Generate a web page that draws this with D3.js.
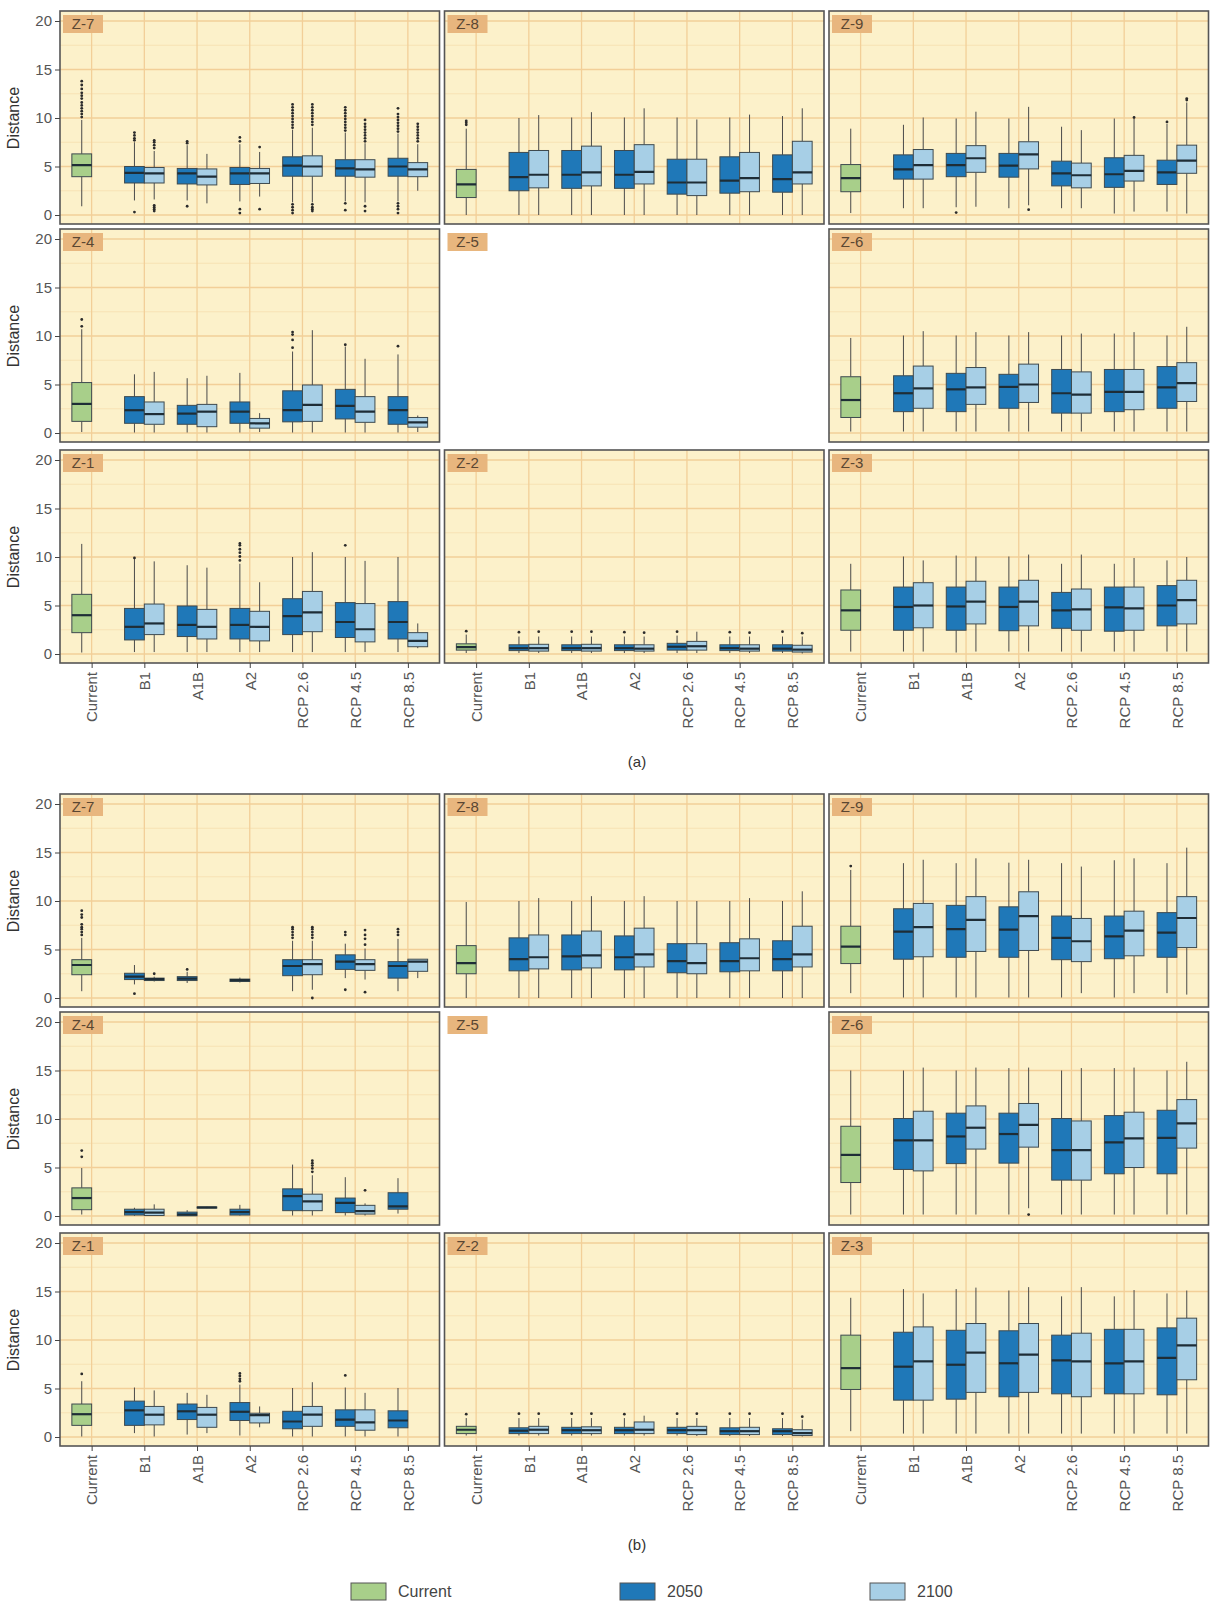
<!DOCTYPE html>
<html>
<head>
<meta charset="utf-8">
<script src="https://cdn.jsdelivr.net/npm/d3@7"></script>
<style>
  body { margin: 0; background: #fff; }
  svg { display: block; }
  text { font-family: "Liberation Sans", Arial, sans-serif; }
</style>
</head>
<body>
<svg class="box-chart" width="1211" height="1605"></svg>
<script>
// Categories and labels
const scenarios = ['Current', 'B1', 'A1B', 'A2', 'RCP 2.6', 'RCP 4.5', 'RCP 8.5'];
const periods = ['Current', '2050', '2100'];
const zones = ['Z-7', 'Z-8', 'Z-9', 'Z-4', 'Z-5', 'Z-6', 'Z-1', 'Z-2', 'Z-3'];
const yTicks = [0, 5, 10, 15, 20];
const yMinor = [2.5, 7.5, 12.5, 17.5];
const figureLabels = ['(a)', '(b)'];

// Box stats: scenario, period, lower whisker, q1, median, q3, upper whisker, outliers
const a_Z7 = [
  ['Current', 'Current', 0.9, 3.95, 5.15, 6.3, 9.8, [10.1, 10.4, 10.7, 11.0, 11.3, 11.6, 12.0, 12.3, 12.6, 13.0, 13.4, 13.8]],
  ['B1', '2050', 1.5, 3.3, 4.35, 5.0, 7.5, [7.7, 7.9, 8.2, 8.5, 0.3]],
  ['B1', '2100', 1.6, 3.3, 4.3, 4.9, 6.6, [6.9, 7.2, 7.5, 7.7, 1.0, 0.8, 0.6, 0.4]],
  ['A1B', '2050', 1.5, 3.2, 4.3, 4.8, 7.2, [7.4, 7.6, 0.9]],
  ['A1B', '2100', 1.2, 3.1, 3.95, 4.75, 6.3, []],
  ['A2', '2050', 1.4, 3.15, 4.3, 4.9, 7.3, [7.6, 8.0, 0.6, 0.2]],
  ['A2', '2100', 1.9, 3.25, 4.3, 4.8, 6.5, [7.0, 0.6]],
  ['RCP 2.6', '2050', 1.3, 4.0, 5.1, 6.0, 8.8, [9.0, 9.3, 9.6, 9.9, 10.2, 10.5, 10.8, 11.1, 11.4, 1.1, 0.8, 0.5, 0.2]],
  ['RCP 2.6', '2100', 1.3, 4.0, 5.0, 6.1, 9.0, [9.3, 9.6, 9.9, 10.2, 10.5, 10.8, 11.1, 11.4, 1.1, 0.8, 0.6, 0.4]],
  ['RCP 4.5', '2050', 1.4, 4.0, 4.8, 5.7, 8.5, [8.7, 9.0, 9.3, 9.6, 9.9, 10.2, 10.5, 10.8, 11.1, 1.2, 0.5]],
  ['RCP 4.5', '2100', 1.3, 3.9, 4.7, 5.7, 7.4, [7.6, 7.9, 8.2, 8.5, 8.8, 9.1, 9.4, 9.8, 0.9, 0.4]],
  ['RCP 8.5', '2050', 1.4, 4.0, 5.0, 5.85, 8.4, [8.6, 8.9, 9.2, 9.5, 9.8, 10.1, 10.4, 11.0, 1.2, 0.9, 0.6, 0.2]],
  ['RCP 8.5', '2100', 2.5, 3.95, 4.7, 5.4, 7.3, [7.6, 7.9, 8.2, 8.5, 8.8, 9.1, 9.4]]
];
const a_Z8 = [
  ['Current', 'Current', 0, 1.8, 3.15, 4.7, 8.9, [9.3, 9.5, 9.7]],
  ['B1', '2050', 0, 2.5, 3.9, 6.45, 10.0, []],
  ['B1', '2100', 0, 2.8, 4.15, 6.65, 10.3, []],
  ['A1B', '2050', 0, 2.75, 4.15, 6.65, 10.05, []],
  ['A1B', '2100', 0, 3.0, 4.4, 7.1, 10.6, []],
  ['A2', '2050', 0, 2.75, 4.15, 6.65, 10.05, []],
  ['A2', '2100', 0, 3.2, 4.45, 7.25, 11.0, []],
  ['RCP 2.6', '2050', 0, 2.15, 3.35, 5.75, 10.05, []],
  ['RCP 2.6', '2100', 0, 2.0, 3.35, 5.75, 9.85, []],
  ['RCP 4.5', '2050', 0, 2.25, 3.55, 6.0, 10.05, []],
  ['RCP 4.5', '2100', 0, 2.4, 3.8, 6.45, 10.35, []],
  ['RCP 8.5', '2050', 0, 2.35, 3.7, 6.2, 10.2, []],
  ['RCP 8.5', '2100', 0, 3.2, 4.4, 7.6, 11.0, []]
];
const a_Z9 = [
  ['Current', 'Current', 0.2, 2.4, 3.8, 5.2, 8.9, []],
  ['B1', '2050', 0.7, 3.7, 4.7, 6.2, 9.3, []],
  ['B1', '2100', 0.7, 3.7, 5.15, 6.75, 10.05, []],
  ['A1B', '2050', 0.8, 3.95, 5.15, 6.35, 9.95, [0.25]],
  ['A1B', '2100', 0.85, 4.4, 5.85, 7.15, 10.65, []],
  ['A2', '2050', 0.7, 3.9, 5.1, 6.35, 9.95, []],
  ['A2', '2100', 1.0, 4.75, 6.25, 7.55, 11.15, [0.55]],
  ['RCP 2.6', '2050', 0.7, 3.0, 4.3, 5.55, 9.1, []],
  ['RCP 2.6', '2100', 0.7, 2.8, 4.1, 5.35, 8.75, []],
  ['RCP 4.5', '2050', 0.15, 2.85, 4.2, 5.9, 9.95, []],
  ['RCP 4.5', '2100', 0.35, 3.5, 4.55, 6.15, 9.9, [10.05]],
  ['RCP 8.5', '2050', 0.35, 3.15, 4.4, 5.65, 9.4, [9.6]],
  ['RCP 8.5', '2100', 0.15, 4.3, 5.6, 7.2, 11.6, [11.85, 12.0]]
];
const a_Z4 = [
  ['Current', 'Current', 0.1, 1.2, 3.0, 5.2, 10.7, [11.0, 11.7]],
  ['B1', '2050', 0.05, 1.0, 2.35, 3.75, 6.05, []],
  ['B1', '2100', 0.05, 0.9, 1.95, 3.2, 6.3, []],
  ['A1B', '2050', 0.05, 0.9, 2.0, 2.85, 5.65, []],
  ['A1B', '2100', 0.05, 0.65, 2.2, 2.95, 5.9, []],
  ['A2', '2050', 0.05, 1.0, 2.2, 3.2, 6.2, []],
  ['A2', '2100', 0.1, 0.5, 1.0, 1.5, 2.05, []],
  ['RCP 2.6', '2050', 0.05, 1.15, 2.35, 4.35, 8.4, [8.8, 9.6, 10.15, 10.4]],
  ['RCP 2.6', '2100', 0.05, 1.2, 2.9, 4.95, 10.6, []],
  ['RCP 4.5', '2050', 0.05, 1.45, 2.8, 4.5, 8.9, [9.1]],
  ['RCP 4.5', '2100', 0.05, 1.1, 2.2, 3.75, 7.65, []],
  ['RCP 8.5', '2050', 0.05, 0.9, 2.35, 3.75, 8.1, [8.95]],
  ['RCP 8.5', '2100', 0.1, 0.6, 1.1, 1.6, 1.8, []]
];
const a_Z6 = [
  ['Current', 'Current', 0.15, 1.6, 3.4, 5.8, 9.8, []],
  ['B1', '2050', 0.15, 2.2, 4.1, 5.9, 10.05, []],
  ['B1', '2100', 0.15, 2.55, 4.6, 6.9, 10.5, []],
  ['A1B', '2050', 0.15, 2.2, 4.5, 6.15, 10.05, []],
  ['A1B', '2100', 0.15, 2.95, 4.7, 6.75, 10.4, []],
  ['A2', '2050', 0.15, 2.55, 4.75, 6.05, 10.05, []],
  ['A2', '2100', 0.15, 3.15, 5.0, 7.1, 10.4, []],
  ['RCP 2.6', '2050', 0.15, 2.05, 4.1, 6.55, 10.05, []],
  ['RCP 2.6', '2100', 0.15, 2.05, 3.95, 6.3, 10.25, []],
  ['RCP 4.5', '2050', 0.15, 2.2, 4.25, 6.55, 10.25, []],
  ['RCP 4.5', '2100', 0.15, 2.4, 4.25, 6.55, 10.4, []],
  ['RCP 8.5', '2050', 0.15, 2.55, 4.7, 6.85, 10.05, []],
  ['RCP 8.5', '2100', 0.15, 3.25, 5.15, 7.25, 10.95, []]
];
const a_Z1 = [
  ['Current', 'Current', 0.15, 2.2, 4.0, 6.15, 11.35, []],
  ['B1', '2050', 0.2, 1.45, 2.8, 4.7, 9.8, [9.9]],
  ['B1', '2100', 0.2, 2.0, 3.15, 5.15, 9.55, []],
  ['A1B', '2050', 0.2, 1.8, 3.0, 4.95, 9.15, []],
  ['A1B', '2100', 0.2, 1.55, 2.8, 4.6, 8.9, []],
  ['A2', '2050', 0.2, 1.55, 3.0, 4.7, 9.3, [9.65, 10.05, 10.45, 10.8, 11.2, 11.4]],
  ['A2', '2100', 0.2, 1.35, 2.8, 4.4, 7.4, []],
  ['RCP 2.6', '2050', 0.2, 2.0, 3.9, 5.7, 10.0, []],
  ['RCP 2.6', '2100', 0.2, 2.3, 4.3, 6.45, 10.5, []],
  ['RCP 4.5', '2050', 0.2, 1.7, 3.3, 5.3, 10.0, [11.2]],
  ['RCP 4.5', '2100', 0.2, 1.25, 2.55, 5.2, 9.6, []],
  ['RCP 8.5', '2050', 0.2, 1.55, 3.3, 5.4, 10.0, []],
  ['RCP 8.5', '2100', 0.6, 0.75, 1.35, 2.2, 3.15, []]
];
const a_Z2 = [
  ['Current', 'Current', 0.1, 0.4, 0.7, 1.05, 2.0, [2.35]],
  ['B1', '2050', 0.1, 0.35, 0.6, 0.95, 1.8, [2.25]],
  ['B1', '2100', 0.1, 0.3, 0.6, 1.0, 1.8, [2.3]],
  ['A1B', '2050', 0.1, 0.35, 0.6, 0.95, 1.8, [2.3]],
  ['A1B', '2100', 0.1, 0.3, 0.6, 1.0, 1.8, [2.3]],
  ['A2', '2050', 0.1, 0.35, 0.6, 0.95, 1.8, [2.25]],
  ['A2', '2100', 0.1, 0.3, 0.55, 0.95, 1.8, [2.2]],
  ['RCP 2.6', '2050', 0.1, 0.4, 0.75, 1.1, 1.9, [2.3]],
  ['RCP 2.6', '2100', 0.1, 0.4, 0.8, 1.3, 2.3, []],
  ['RCP 4.5', '2050', 0.1, 0.35, 0.6, 0.95, 1.8, [2.25]],
  ['RCP 4.5', '2100', 0.1, 0.3, 0.55, 0.95, 1.8, [2.2]],
  ['RCP 8.5', '2050', 0.1, 0.3, 0.55, 0.95, 1.8, [2.3]],
  ['RCP 8.5', '2100', 0.05, 0.2, 0.45, 0.9, 1.8, [2.15]]
];
const a_Z3 = [
  ['Current', 'Current', 0.25, 2.45, 4.5, 6.6, 9.3, []],
  ['B1', '2050', 0.25, 2.45, 4.85, 6.9, 10.05, []],
  ['B1', '2100', 0.25, 2.7, 5.0, 7.35, 9.65, []],
  ['A1B', '2050', 0.15, 2.45, 4.9, 6.9, 10.15, []],
  ['A1B', '2100', 0.25, 3.1, 5.4, 7.5, 10.05, []],
  ['A2', '2050', 0.25, 2.4, 4.85, 6.9, 10.05, []],
  ['A2', '2100', 0.25, 2.9, 5.4, 7.6, 10.25, []],
  ['RCP 2.6', '2050', 0.25, 2.65, 4.5, 6.35, 9.3, []],
  ['RCP 2.6', '2100', 0.25, 2.45, 4.6, 6.7, 10.25, []],
  ['RCP 4.5', '2050', 0.25, 2.35, 4.8, 6.9, 9.3, []],
  ['RCP 4.5', '2100', 0.25, 2.45, 4.7, 6.9, 9.9, []],
  ['RCP 8.5', '2050', 0.25, 2.9, 5.0, 7.05, 9.65, []],
  ['RCP 8.5', '2100', 0.25, 3.1, 5.55, 7.6, 10.0, []]
];

const b_Z7 = [
  ['Current', 'Current', 0.7, 2.4, 3.4, 3.95, 6.2, [6.5, 6.8, 7.1, 7.3, 7.6, 8.3, 8.6, 9.0]],
  ['B1', '2050', 1.4, 1.9, 2.2, 2.55, 3.4, [0.45]],
  ['B1', '2100', 1.7, 1.8, 1.95, 2.05, 2.2, [2.5]],
  ['A1B', '2050', 1.55, 1.8, 2.0, 2.2, 2.7, [2.95]],
  ['A2', '2050', 1.6, 1.7, 1.85, 1.95, 2.1, []],
  ['RCP 2.6', '2050', 0.7, 2.3, 3.3, 3.95, 5.9, [6.2, 6.5, 6.8, 7.1, 7.3]],
  ['RCP 2.6', '2100', 0.85, 2.4, 3.5, 3.95, 5.9, [6.2, 6.5, 6.8, 7.1, 7.3, 0.0]],
  ['RCP 4.5', '2050', 2.05, 2.95, 3.75, 4.45, 5.6, [6.5, 6.8, 0.85]],
  ['RCP 4.5', '2100', 1.9, 2.85, 3.5, 3.95, 5.1, [5.5, 6.1, 6.5, 7.0, 0.6]],
  ['RCP 8.5', '2050', 0.7, 2.05, 3.3, 3.75, 6.1, [6.5, 6.8, 7.1]],
  ['RCP 8.5', '2100', 2.05, 2.75, 3.75, 4.0, 4.0, []]
];
const b_Z8 = [
  ['Current', 'Current', 0, 2.5, 3.6, 5.4, 9.9, []],
  ['B1', '2050', 0, 2.8, 4.0, 6.2, 10.0, []],
  ['B1', '2100', 0, 3.0, 4.2, 6.5, 10.3, []],
  ['A1B', '2050', 0, 2.9, 4.3, 6.5, 10.0, []],
  ['A1B', '2100', 0, 3.1, 4.4, 6.9, 10.5, []],
  ['A2', '2050', 0, 2.9, 4.2, 6.4, 10.0, []],
  ['A2', '2100', 0, 3.2, 4.5, 7.2, 10.5, []],
  ['RCP 2.6', '2050', 0, 2.6, 3.8, 5.6, 10.0, []],
  ['RCP 2.6', '2100', 0, 2.5, 3.6, 5.6, 10.0, []],
  ['RCP 4.5', '2050', 0, 2.7, 3.8, 5.7, 10.0, []],
  ['RCP 4.5', '2100', 0, 2.8, 4.1, 6.1, 10.3, []],
  ['RCP 8.5', '2050', 0, 2.8, 4.0, 5.9, 10.0, []],
  ['RCP 8.5', '2100', 0, 3.2, 4.5, 7.4, 11.0, []]
];
const b_Z9 = [
  ['Current', 'Current', 0.5, 3.55, 5.3, 7.4, 13.2, [13.6]],
  ['B1', '2050', 0.05, 4.0, 6.85, 9.2, 13.9, []],
  ['B1', '2100', 0.05, 4.25, 7.3, 9.75, 14.25, []],
  ['A1B', '2050', 0.05, 4.2, 7.1, 9.55, 13.9, []],
  ['A1B', '2100', 0.05, 4.8, 8.05, 10.45, 14.4, []],
  ['A2', '2050', 0.05, 4.2, 7.05, 9.4, 13.95, []],
  ['A2', '2100', 0.05, 4.9, 8.45, 10.95, 14.25, []],
  ['RCP 2.6', '2050', 0.05, 3.95, 6.2, 8.45, 13.9, []],
  ['RCP 2.6', '2100', 0.5, 3.75, 5.85, 8.2, 13.55, []],
  ['RCP 4.5', '2050', 0.05, 4.05, 6.35, 8.45, 14.2, []],
  ['RCP 4.5', '2100', 0.5, 4.35, 6.95, 8.95, 14.4, []],
  ['RCP 8.5', '2050', 0.5, 4.2, 6.75, 8.8, 13.9, []],
  ['RCP 8.5', '2100', 0.35, 5.2, 8.25, 10.45, 15.5, []]
];
const b_Z4 = [
  ['Current', 'Current', 0.15, 0.65, 1.85, 2.9, 4.95, [6.1, 6.75]],
  ['B1', '2050', 0.02, 0.1, 0.4, 0.7, 0.85, []],
  ['B1', '2100', 0.0, 0.05, 0.35, 0.7, 1.2, []],
  ['A1B', '2050', 0.0, 0.02, 0.15, 0.4, 0.6, []],
  ['A1B', '2100', 0.8, 0.82, 0.88, 0.93, 0.95, []],
  ['A2', '2050', 0.05, 0.1, 0.4, 0.7, 1.15, []],
  ['RCP 2.6', '2050', 0.05, 0.55, 2.05, 2.8, 5.3, []],
  ['RCP 2.6', '2100', 0.05, 0.55, 1.5, 2.25, 4.2, [4.55, 4.9, 5.2, 5.45, 5.7]],
  ['RCP 4.5', '2050', 0.05, 0.35, 1.35, 1.85, 4.0, []],
  ['RCP 4.5', '2100', 0.05, 0.2, 0.5, 1.1, 1.3, [2.65]],
  ['RCP 8.5', '2050', 0.25, 0.7, 1.0, 2.4, 3.9, []]
];
const b_Z6 = [
  ['Current', 'Current', 0.15, 3.45, 6.3, 9.25, 15.0, []],
  ['B1', '2050', 0.15, 4.8, 7.8, 10.05, 15.0, []],
  ['B1', '2100', 0.15, 4.65, 7.8, 10.8, 15.3, []],
  ['A1B', '2050', 0.15, 5.4, 8.2, 10.6, 15.0, []],
  ['A1B', '2100', 0.15, 6.9, 9.1, 11.35, 15.3, []],
  ['A2', '2050', 0.15, 5.45, 8.45, 10.6, 15.25, []],
  ['A2', '2100', 0.8, 7.1, 9.4, 11.6, 15.3, [0.15]],
  ['RCP 2.6', '2050', 0.15, 3.7, 6.8, 10.05, 15.0, []],
  ['RCP 2.6', '2100', 0.15, 3.7, 6.8, 9.8, 15.25, []],
  ['RCP 4.5', '2050', 0.15, 4.35, 7.6, 10.35, 15.25, []],
  ['RCP 4.5', '2100', 0.15, 5.0, 8.0, 10.7, 15.3, []],
  ['RCP 8.5', '2050', 0.15, 4.35, 8.05, 10.9, 15.0, []],
  ['RCP 8.5', '2100', 0.15, 7.0, 9.55, 12.0, 15.9, []]
];
const b_Z1 = [
  ['Current', 'Current', 0.05, 1.2, 2.35, 3.4, 5.75, [6.5]],
  ['B1', '2050', 0.4, 1.2, 2.75, 3.7, 5.1, []],
  ['B1', '2100', 0.05, 1.25, 2.3, 3.15, 4.8, []],
  ['A1B', '2050', 0.25, 1.8, 2.65, 3.4, 4.55, []],
  ['A1B', '2100', 0.4, 1.0, 2.3, 3.05, 4.35, []],
  ['A2', '2050', 0.15, 1.7, 2.6, 3.55, 5.4, [5.75, 6.0, 6.3, 6.55]],
  ['A2', '2100', 1.0, 1.45, 2.25, 2.45, 3.15, []],
  ['RCP 2.6', '2050', 0.05, 0.85, 1.6, 2.65, 5.05, []],
  ['RCP 2.6', '2100', 0.05, 1.1, 2.3, 3.15, 5.65, []],
  ['RCP 4.5', '2050', 0.05, 1.1, 1.8, 2.8, 5.1, [6.35]],
  ['RCP 4.5', '2100', 0.05, 0.7, 1.5, 2.8, 4.55, []],
  ['RCP 8.5', '2050', 0.05, 0.95, 1.7, 2.7, 5.05, []]
];
const b_Z2 = [
  ['Current', 'Current', 0.15, 0.35, 0.75, 1.1, 1.95, [2.35]],
  ['B1', '2050', 0.15, 0.35, 0.65, 0.95, 1.95, [2.4]],
  ['B1', '2100', 0.15, 0.35, 0.75, 1.1, 1.95, [2.4]],
  ['A1B', '2050', 0.15, 0.35, 0.7, 1.0, 1.95, [2.4]],
  ['A1B', '2100', 0.15, 0.35, 0.7, 1.05, 1.95, [2.4]],
  ['A2', '2050', 0.15, 0.35, 0.7, 1.0, 1.95, [2.35]],
  ['A2', '2100', 0.15, 0.35, 0.75, 1.55, 2.2, []],
  ['RCP 2.6', '2050', 0.15, 0.35, 0.7, 1.0, 1.95, [2.4]],
  ['RCP 2.6', '2100', 0.1, 0.25, 0.7, 1.1, 1.95, [2.4]],
  ['RCP 4.5', '2050', 0.1, 0.25, 0.6, 0.95, 1.95, [2.4]],
  ['RCP 4.5', '2100', 0.1, 0.25, 0.6, 1.0, 1.95, [2.4]],
  ['RCP 8.5', '2050', 0.1, 0.25, 0.6, 0.85, 1.95, [2.4]],
  ['RCP 8.5', '2100', 0.05, 0.15, 0.4, 0.75, 1.8, [2.1]]
];
const b_Z3 = [
  ['Current', 'Current', 0.6, 4.9, 7.1, 10.5, 14.35, []],
  ['B1', '2050', 0.35, 3.8, 7.25, 10.8, 15.25, []],
  ['B1', '2100', 0.35, 3.8, 7.8, 11.35, 14.8, []],
  ['A1B', '2050', 0.35, 3.9, 7.45, 11.0, 15.25, []],
  ['A1B', '2100', 0.35, 4.6, 8.7, 11.7, 15.4, []],
  ['A2', '2050', 0.35, 4.15, 7.6, 10.95, 15.1, []],
  ['A2', '2100', 0.35, 4.6, 8.5, 11.7, 15.45, []],
  ['RCP 2.6', '2050', 0.35, 4.45, 7.9, 10.5, 14.5, []],
  ['RCP 2.6', '2100', 0.35, 4.15, 7.8, 10.7, 15.45, []],
  ['RCP 4.5', '2050', 0.35, 4.45, 7.6, 11.1, 14.5, []],
  ['RCP 4.5', '2100', 0.35, 4.45, 7.8, 11.1, 15.15, []],
  ['RCP 8.5', '2050', 0.35, 4.35, 8.15, 11.25, 14.8, []],
  ['RCP 8.5', '2100', 0.35, 5.9, 9.45, 12.25, 15.1, []]
];

// Panels in facet order (null = empty Z-5)
const figureA = [a_Z7, a_Z8, a_Z9, a_Z4, null, a_Z6, a_Z1, a_Z2, a_Z3];
const figureB = [b_Z7, b_Z8, b_Z9, b_Z4, null, b_Z6, b_Z1, b_Z2, b_Z3];

// Styles
const fillColor = { 'Current': '#A8CF8A', '2050': '#1F78B8', '2100': '#A7CFE6' };
const panelBg = '#FCF1CA';
const gridMajor = '#F2CF98';
const gridMinor = '#F6DFAE';

// Layout
const svg = d3.select('.box-chart');
const colLeft = [60, 444.5, 829];
const panelW = 379.5;
const rowZero = [[215, 433, 654], [998, 1216, 1437]];
const zeroToTop = 204;
const zeroToBottom = 9;

// Create scales
const xScale = d3.scalePoint()
  .domain(scenarios)
  .range([0, panelW])
  .padding(0.6);
const boxW = xScale.step() * 0.375;

function drawPanel(fig, idx, stats) {
  const row = Math.floor(idx / 3);
  const col = idx % 3;
  const zero = rowZero[fig][row];
  const top = zero - zeroToTop;
  const h = zeroToTop + zeroToBottom;
  const g = svg.append('g').attr('transform', `translate(${colLeft[col]}, ${top})`);

  const yScale = d3.scaleLinear().domain([0, 20]).range([zeroToTop, zeroToTop - 194]);

  if (stats) {
    const clipId = `clip-${fig}-${idx}`;
    g.append('clipPath').attr('id', clipId)
      .append('rect').attr('width', panelW).attr('height', h);
    const inner = g.append('g').attr('clip-path', `url(#${clipId})`);

    inner.append('rect')
      .attr('width', panelW).attr('height', h)
      .attr('fill', panelBg);

    // Grid lines
    inner.selectAll('.minor').data(yMinor).join('line')
      .attr('x1', 0).attr('x2', panelW)
      .attr('y1', d => yScale(d)).attr('y2', d => yScale(d))
      .attr('stroke', gridMinor).attr('stroke-width', 0.8);
    inner.selectAll('.major').data(yTicks).join('line')
      .attr('x1', 0).attr('x2', panelW)
      .attr('y1', d => yScale(d)).attr('y2', d => yScale(d))
      .attr('stroke', gridMajor).attr('stroke-width', 1.3);
    inner.selectAll('.vgrid').data(scenarios).join('line')
      .attr('x1', d => xScale(d)).attr('x2', d => xScale(d))
      .attr('y1', 0).attr('y2', h)
      .attr('stroke', gridMajor).attr('stroke-width', 1.3);

    // Boxes
    const boxes = inner.selectAll('.box').data(stats).join('g');
    const left = d => d[1] === '2100' ? xScale(d[0]) : xScale(d[0]) - boxW;
    const mid = d => left(d) + boxW / 2;

    boxes.append('line')
      .attr('x1', mid).attr('x2', mid)
      .attr('y1', d => yScale(d[6])).attr('y2', d => yScale(d[5]))
      .attr('stroke', '#4a4a4a').attr('stroke-width', 1);
    boxes.append('line')
      .attr('x1', mid).attr('x2', mid)
      .attr('y1', d => yScale(d[3])).attr('y2', d => yScale(d[2]))
      .attr('stroke', '#4a4a4a').attr('stroke-width', 1);
    boxes.append('rect')
      .attr('x', left).attr('width', boxW)
      .attr('y', d => yScale(d[5]))
      .attr('height', d => Math.max(1, yScale(d[3]) - yScale(d[5])))
      .attr('fill', d => fillColor[d[1]])
      .attr('stroke', '#3e4a4f').attr('stroke-width', 1);
    boxes.append('line')
      .attr('x1', left).attr('x2', d => left(d) + boxW)
      .attr('y1', d => yScale(d[4])).attr('y2', d => yScale(d[4]))
      .attr('stroke', '#1e2d36').attr('stroke-width', 2.2);
    boxes.selectAll('circle').data(d => d[7].map(v => [mid(d), v])).join('circle')
      .attr('cx', p => p[0]).attr('cy', p => yScale(p[1]))
      .attr('r', 1.4).attr('fill', '#2b2b2b');

    g.append('rect')
      .attr('width', panelW).attr('height', h)
      .attr('fill', 'none').attr('stroke', '#555').attr('stroke-width', 1.6);

    // Y axis on left column
    if (col === 0) {
      const ya = g.append('g').call(d3.axisLeft(yScale).tickValues(yTicks).tickSize(5).tickPadding(3));
      ya.select('.domain').remove();
      ya.selectAll('line').attr('stroke', '#444');
      ya.selectAll('text').attr('font-size', 15).attr('fill', '#555')
        .style('font-family', '"Liberation Sans", Arial, sans-serif');
      g.append('text')
        .attr('transform', `translate(-41, ${yScale(10)}) rotate(-90)`)
        .attr('text-anchor', 'middle')
        .attr('font-size', 16).attr('fill', '#333')
        .text('Distance');
    }

    // X axis on bottom row
    if (row === 2) {
      const xa = g.append('g').attr('transform', `translate(0, ${h})`)
        .call(d3.axisBottom(xScale).tickSize(5));
      xa.select('.domain').remove();
      xa.selectAll('line').attr('stroke', '#444');
      xa.selectAll('text')
        .attr('transform', 'rotate(-90)')
        .attr('text-anchor', 'end')
        .attr('x', -9).attr('y', 0).attr('dy', '0.35em')
        .attr('font-size', 15).attr('fill', '#555')
        .style('font-family', '"Liberation Sans", Arial, sans-serif');
    }
  }

  // Strip label
  g.append('rect')
    .attr('x', 3).attr('y', 4).attr('width', 40).attr('height', 18)
    .attr('fill', '#E8B67E');
  g.append('text')
    .attr('x', 23).attr('y', 18)
    .attr('text-anchor', 'middle')
    .attr('font-size', 15).attr('fill', '#5a4632')
    .text(zones[idx]);
}

[figureA, figureB].forEach((fig, f) => {
  fig.forEach((stats, i) => drawPanel(f, i, stats));
  svg.append('text')
    .attr('x', 637).attr('y', rowZero[f][2] + 113)
    .attr('text-anchor', 'middle')
    .attr('font-size', 15).attr('fill', '#333')
    .text(figureLabels[f]);
});

// Legend
const legendX = [351, 620, 870];
const legend = svg.append('g').attr('transform', 'translate(0, 1583)');
periods.forEach((p, i) => {
  legend.append('rect')
    .attr('x', legendX[i]).attr('y', 0).attr('width', 35).attr('height', 17)
    .attr('fill', fillColor[p]).attr('stroke', '#555').attr('stroke-width', 1);
  legend.append('text')
    .attr('x', legendX[i] + 47).attr('y', 14)
    .attr('font-size', 16).attr('fill', '#444')
    .text(p);
});
</script>
</body>
</html>
